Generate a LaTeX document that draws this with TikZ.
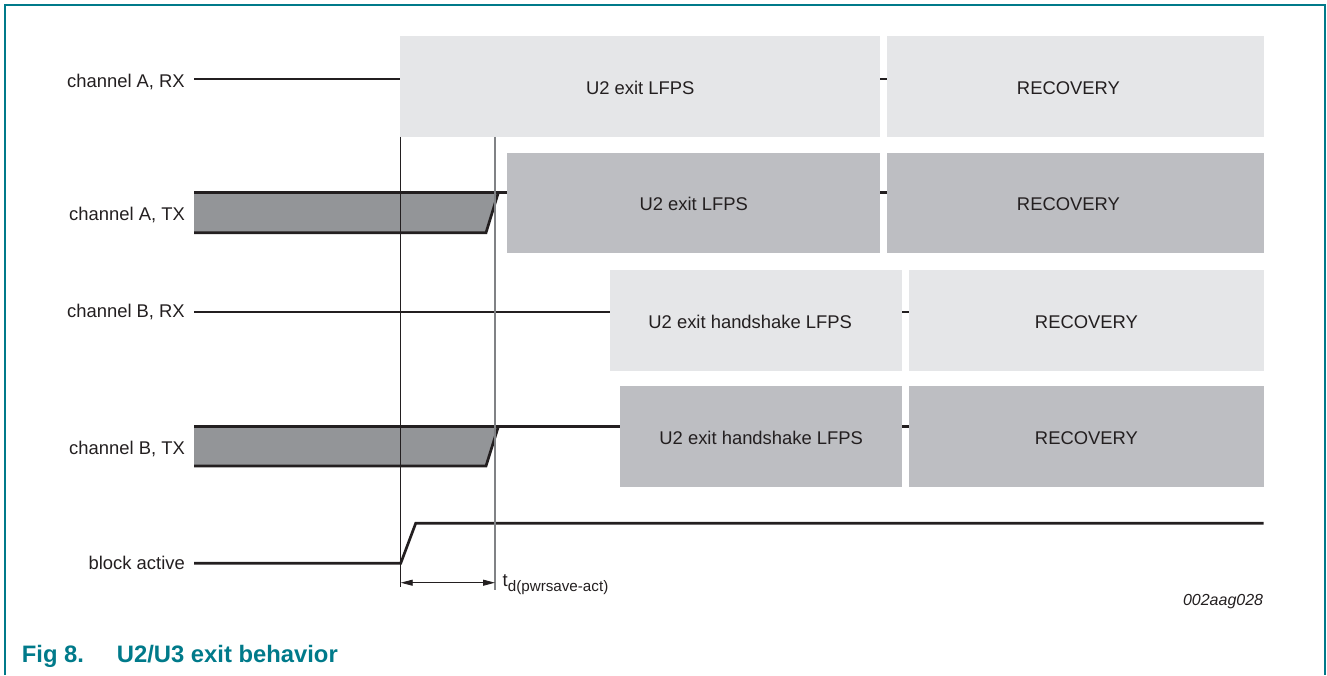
\documentclass[tikz,border=0pt]{standalone}
\usepackage{fontspec}
\setmainfont{Liberation Sans}
\usetikzlibrary{arrows.meta}
\definecolor{nxpteal}{RGB}{0,122,138}
\definecolor{sigline}{RGB}{35,31,32}
\definecolor{boxlight}{RGB}{229,230,232}
\definecolor{boxdark}{RGB}{189,190,194}
\definecolor{txfill}{RGB}{147,149,152}
\definecolor{markgray}{RGB}{128,130,133}
\newcommand{\sigfont}{\fontsize{18.4}{22}\selectfont}
\tikzset{
  sig/.style      = {draw=sigline, line width=2.7pt},
  stbox/.style    = {rectangle, inner sep=0pt, anchor=north west, text=sigline,
                     font=\sigfont, text height=15.5pt, text depth=0pt},
  rxbox/.style    = {stbox, fill=boxlight},
  txbox/.style    = {stbox, fill=boxdark},
  siglabel/.style = {anchor=base east, inner sep=0pt, text=sigline, font=\sigfont},
  marker/.style   = {draw=sigline, line width=1pt},
  dimarr/.style   = {{Triangle[length=12pt,width=6pt]}-{Triangle[length=12pt,width=6pt]},
                     draw=sigline, line width=0.9pt},
  captext/.style  = {anchor=base west, inner sep=0pt, text=nxpteal,
                     font=\fontsize{23.8}{28}\selectfont\bfseries}
}

\begin{document}
\begin{tikzpicture}[x=1pt,y=-1pt]
  \useasboundingbox (0,0) rectangle (1327,675);
  \draw[nxpteal, line width=2pt] (4.7,675) -- (4.7,4.7) -- (1325.3,4.7) -- (1325.3,675);

  % signal names
  \node[siglabel] (labArx) at (185,87.3) {channel A, RX};
  \node[siglabel] (labAtx) at (185,220)  {channel A, TX};
  \node[siglabel] (labBrx) at (185,317.3) {channel B, RX};
  \node[siglabel] (labBtx) at (185,454)  {channel B, TX};
  \node[siglabel] (labact) at (185,569.3) {block active};
  \foreach \n/\y in {Arx/79, Atx/192.7, Brx/312, Btx/426.7, act/563.3}
    \coordinate (s\n) at (194,\y);

  % states
  \node[rxbox, minimum width=480pt, minimum height=100.5pt] (rxA) at (400,36) {U2 exit LFPS};
  \node[rxbox, minimum width=376.5pt, minimum height=100.5pt] (rxArec) at (887,36) {\hspace*{-14pt}RECOVERY};
  \node[txbox, minimum width=373pt, minimum height=100pt] (txA) at (507,152.3) {U2 exit LFPS};
  \node[txbox, minimum width=376.5pt, minimum height=100pt] (txArec) at (887,152.3) {\hspace*{-14pt}RECOVERY};
  \node[rxbox, minimum width=292pt, minimum height=100.5pt] (rxB) at (610,270) {\hspace*{-12pt}U2 exit handshake LFPS};
  \node[rxbox, minimum width=354.5pt, minimum height=100.5pt] (rxBrec) at (909,270) {RECOVERY};
  \node[txbox, minimum width=282pt, minimum height=100.5pt] (txB) at (620,386) {U2 exit handshake LFPS};
  \node[txbox, minimum width=354.5pt, minimum height=100.5pt] (txBrec) at (909,386) {RECOVERY};
  \foreach \a/\b/\y in {rxA/rxArec/79, txA/txArec/192.7, rxB/rxBrec/312, txB/txBrec/426.7}
    \draw[sig] (\a.east |- 0,\y) -- (\b.west |- 0,\y);

  % levels
  \draw[sig] (sArx) -- (rxA.west |- sArx);
  \draw[sig] (sBrx) -- (rxB.west |- sBrx);
  \foreach \n/\t/\b/\e in {Atx/192.7/232.7/txA, Btx/426.7/466/txB} {
    \fill[txfill] (194,\t) -- (498.3,\t) -- (486,\b) -- (194,\b) -- cycle;
    \draw[sig] (s\n) -- (\e.west |- s\n);
    \draw[sig] (498.3,\t) -- (486,\b) -- (194,\b);
  }
  \coordinate (actup) at (1263.5,523.3);
  \draw[sig] (sact) -- (400.7,563.3) -- (415.7,523.3) -- (actup);

  % timing
  \coordinate (mk1) at (400.7,587);
  \coordinate (mk2) at (495,590);
  \draw[marker] (rxA.south -| mk1) -- (mk1);
  \draw[draw=markgray, line width=1.3pt] (rxA.south -| mk2) -- (mk2);
  \draw[dimarr] (400.7,582.7) -- (495,582.7);
  \node[anchor=base west, inner sep=0pt, text=sigline, font=\sigfont] (tdlab) at (502.5,586.5)
    {t\raisebox{-5pt}{\fontsize{15.2}{18}\selectfont d(pwrsave-act)}};

  \node[anchor=base east, inner sep=0pt, text=sigline, font=\fontsize{16}{19}\selectfont\itshape]
    (figid) at (1263.3,605.7) {002aag028};
  \node[captext] (capnum) at (21.7,662) {Fig 8.};
  \node[captext] (captitle) at (116.7,662) {U2/U3 exit behavior};
\end{tikzpicture}
\end{document}
